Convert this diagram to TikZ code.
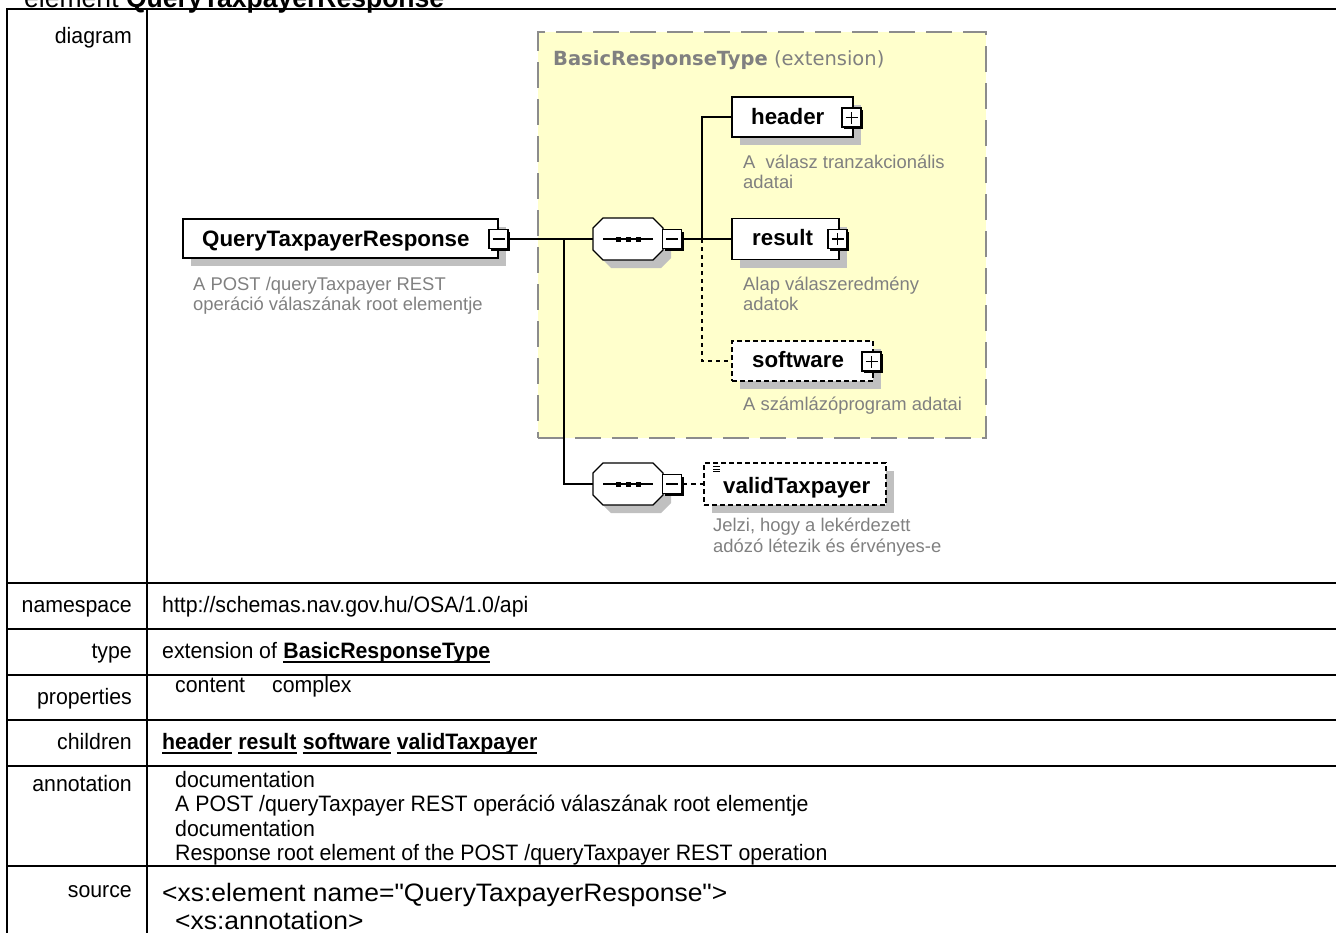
\documentclass[tikz,border=0pt]{standalone}
\usepackage{fontspec}
\setmainfont{Liberation Sans}
\newfontfamily\tabfont[FakeStretch=0.955]{Liberation Sans}
\newfontfamily\srcfont[FakeStretch=1.05]{Liberation Sans}
\newfontfamily\dvfont{DejaVu Sans}
\usetikzlibrary{shadows,calc}
\definecolor{descgray}{RGB}{128,128,128}
\definecolor{shgray}{RGB}{192,192,192}
\definecolor{extyellow}{RGB}{255,255,204}
\definecolor{extborder}{RGB}{140,140,140}
\tikzset{
  elem/.style={draw, line width=1.3pt, fill=white, inner sep=0pt,
    drop shadow={shadow xshift=8pt, shadow yshift=-8pt, fill=shgray, opacity=1}},
  optelem/.style={elem, dash pattern=on 5pt off 3pt},
  pmbox/.style={draw, line width=1.1pt, fill=white, minimum size=19pt, inner sep=0pt,
    drop shadow={shadow xshift=2pt, shadow yshift=-2pt, fill=black, opacity=1}},
  pmminus/.style={pmbox, path picture={\draw[line width=1.2pt]
     ([xshift=-6pt]path picture bounding box.center) -- ([xshift=6pt]path picture bounding box.center);}},
  pmplus/.style={pmbox, path picture={\draw[line width=1.2pt]
     ([xshift=-6pt]path picture bounding box.center) -- ([xshift=6pt]path picture bounding box.center)
     ([yshift=-6pt]path picture bounding box.center) -- ([yshift=6pt]path picture bounding box.center);}},
  seqbox/.style={minimum width=70pt, minimum height=42pt, inner sep=0pt},
  octo/.style={draw, line width=1.3pt, fill=white,
    drop shadow={shadow xshift=8pt, shadow yshift=-8pt, fill=shgray, opacity=1}},
  conn/.style={line width=1.3pt},
  dotconn/.style={line width=1.3pt, dash pattern=on 4pt off 4pt},
  lab/.style={anchor=base west, inner sep=0pt, font=\bfseries\fontsize{22.3}{26}\selectfont},
  desc/.style={anchor=base west, inner sep=0pt, text=descgray, font=\fontsize{18.4}{20}\selectfont},
  tbl/.style={line width=2pt},
  rowlbl/.style={anchor=base east, inner sep=0pt, font=\tabfont\fontsize{22.3}{26}\selectfont},
  rowval/.style={anchor=base west, inner sep=0pt, font=\tabfont\fontsize{22.3}{26}\selectfont},
  rowbold/.style={anchor=base west, inner sep=0pt, font=\tabfont\bfseries\fontsize{22.3}{26}\selectfont},
  ulline/.style={line width=1.6pt},
  srcval/.style={anchor=base west, inner sep=0pt, font=\srcfont\fontsize{25.2}{28}\selectfont}
}
\newcommand\drawocto[1]{%
  \draw[octo] ($(#1)+(-25,-21)$) -- ($(#1)+(25,-21)$) -- ($(#1)+(35,-11)$) -- ($(#1)+(35,11)$)
     -- ($(#1)+(25,21)$) -- ($(#1)+(-25,21)$) -- ($(#1)+(-35,11)$) -- ($(#1)+(-35,-11)$) -- cycle;
  \draw[line width=1.2pt] ($(#1)+(-25,0)$) -- ($(#1)+(25,0)$);
  \foreach \dx in {-10,0,10} {\fill ($(#1)+(\dx,0)+(-2.5,-2.5)$) rectangle ($(#1)+(\dx,0)+(2.5,2.5)$);}
}
\newcommand\ulunder[1]{\draw[ulline] ($(#1.base west)+(0,3)$) -- ($(#1.base east)+(0,3)$);}
\begin{document}
\begin{tikzpicture}[x=1pt,y=-1pt]
\useasboundingbox (0,0) rectangle (1336,932);

% title (cut at top)
\node[anchor=base west, inner sep=0pt, font=\tabfont\fontsize{27.8}{30}\selectfont] (title) at (24,7) {element \textbf{QueryTaxpayerResponse}};

% table
\draw[tbl] (6,9) -- (1340,9);
\draw[tbl] (7,8) -- (7,940);
\draw[tbl] (147,8) -- (147,940);
\foreach \yy in {583,629,675,720,766,866} {\draw[tbl] (6,\yy) -- (1340,\yy);}

\node[rowlbl] (ldiagram) at (132,43) {diagram};
\node[rowlbl] (lns) at (132,612.7) {namespace};
\node[rowlbl] (ltype) at (132,658.7) {type};
\node[rowlbl] (lprops) at (132,704) {properties};
\node[rowlbl] (lchildren) at (132,749.7) {children};
\node[rowlbl] (lannot) at (132,791) {annotation};
\node[rowlbl] (lsource) at (132,897) {source};

\node[rowval] (vns) at (162,612.7) {http://schemas.nav.gov.hu/OSA/1.0/api};
\node[rowval] (vtype) at (162,658.7) {extension of};
\node[rowbold] (vtypeb) at ([xshift=6pt]vtype.base east) {BasicResponseType};
\ulunder{vtypeb}
\node[rowval] (vcontent) at (175,692) {content};
\node[rowval] (vcomplex) at (272,692) {complex};
\node[rowbold] (ch1) at (162,749.7) {header};
\node[rowbold] (ch2) at ([xshift=6pt]ch1.base east) {result};
\node[rowbold] (ch3) at ([xshift=6pt]ch2.base east) {software};
\node[rowbold] (ch4) at ([xshift=6pt]ch3.base east) {validTaxpayer};
\ulunder{ch1}\ulunder{ch2}\ulunder{ch3}\ulunder{ch4}
\node[rowval] (va1) at (175,787.5) {documentation};
\node[rowval] (va2) at (175,811.7) {A POST /queryTaxpayer REST operáció válaszának root elementje};
\node[rowval] (va3) at (175,836) {documentation};
\node[rowval] (va4) at (175,860) {Response root element of the POST /queryTaxpayer REST operation};
\node[srcval] (vs1) at (162,901) {<xs:element name="QueryTaxpayerResponse">};
\node[srcval] (vs2) at (175,929) {<xs:annotation>};

% extension group
\node[draw=extborder, line width=1.6pt, dash pattern=on 26pt off 11pt, fill=extyellow,
      minimum width=448pt, minimum height=406pt, inner sep=0pt] (ext) at (762,235) {};
\node[anchor=base west, inner sep=0pt, text=descgray, font=\dvfont\fontsize{19.5}{22}\selectfont]
      (extl) at (553,65) {\textbf{BasicResponseType} (extension)};

% root element
\node[elem, minimum width=315pt, minimum height=39pt] (qtr) at (340.5,238.5) {};
\node[lab] (qtrl) at (202,246) {QueryTaxpayerResponse};
\node[pmminus] (qtrpm) at (498.5,239) {};
\node[desc] (qtrd1) at (193,290) {A POST /queryTaxpayer REST};
\node[desc] (qtrd2) at (193,310) {operáció válaszának root elementje};

% sequences
\node[seqbox] (seq1) at (628,239) {};
\drawocto{seq1}
\node[pmminus] (seq1pm) at (672,239) {};
\node[seqbox] (seq2) at (628,484) {};
\drawocto{seq2}
\node[pmminus] (seq2pm) at (672,484) {};

% children
\node[elem, minimum width=121pt, minimum height=40pt] (header) at (792.5,117) {};
\node[lab] (headerl) at (751,124) {header};
\node[pmplus] (headerpm) at (851.5,117.5) {};
\node[desc] (hd1) at (743,168) {A\ \ válasz tranzakcionális};
\node[desc] (hd2) at (743,188) {adatai};

\node[elem, minimum width=107pt, minimum height=41pt] (result) at (785.5,239) {};
\node[lab] (resultl) at (752,245) {result};
\node[pmplus] (resultpm) at (837.5,239) {};
\node[desc] (rd1) at (743,290) {Alap válaszeredmény};
\node[desc] (rd2) at (743,310) {adatok};

\node[optelem, minimum width=141pt, minimum height=40pt] (software) at (802.5,361) {};
\node[lab] (softwarel) at (752,367) {software};
\node[pmplus] (softwarepm) at (871.5,361.5) {};
\node[desc] (sd1) at (743,410) {A számlázóprogram adatai};

\node[optelem, minimum width=182pt, minimum height=42pt] (valid) at (795,484) {};
\node[lab] (validl) at (723,493) {validTaxpayer};
\foreach \yy in {466.5,469,471.5} {\draw[line width=1pt] (713,\yy) -- (720,\yy);}
\node[desc] (vd1) at (713,531) {Jelzi, hogy a lekérdezett};
\node[desc] (vd2) at (713,552) {adózó létezik és érvényes-e};

% connectors
\coordinate (j0) at (564,239);
\coordinate (j1) at (702,239);
\draw[conn] (qtrpm.east) -- (seq1.west);
\draw[conn] (j0) |- (seq2.west);
\draw[conn] (seq1pm.east) -- (result.west);
\draw[conn] (j1) |- (header.west);
\draw[dotconn] (j1) |- (software.west);
\draw[conn, dash pattern=on 5pt off 4pt] (seq2pm.east) -- (valid.west);
\end{tikzpicture}
\end{document}
